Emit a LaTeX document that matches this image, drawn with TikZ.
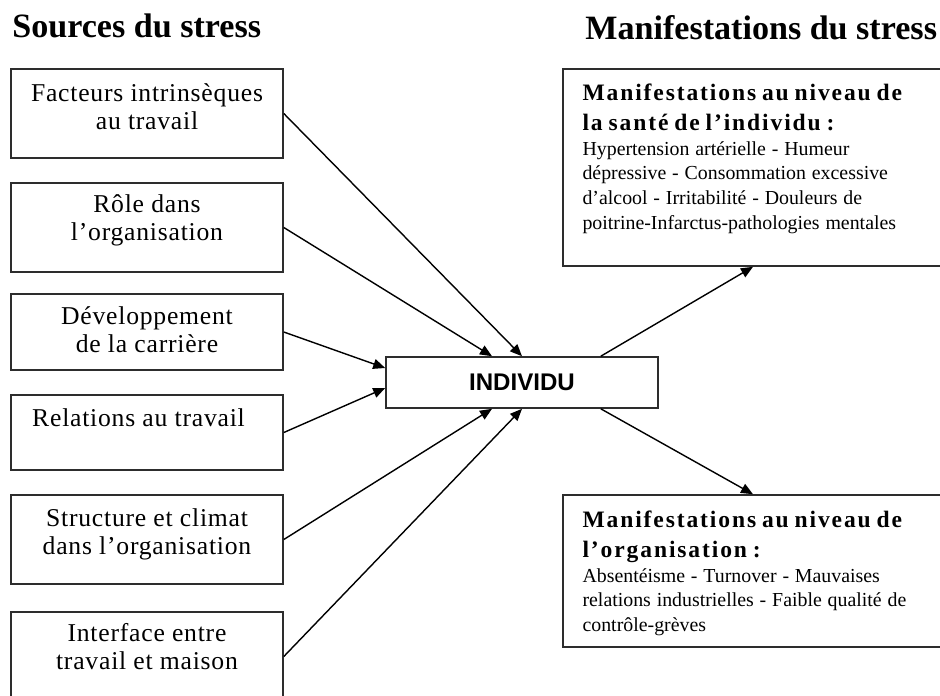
\documentclass[tikz,border=0pt]{standalone}
\usepackage{fontspec}
\setmainfont{Liberation Serif}
\newfontfamily\boxfont[LetterSpace=3]{Liberation Serif}
\newfontfamily\headfont[LetterSpace=8]{Liberation Serif}
\newfontfamily\indivfont{Liberation Sans}
\usepackage{tikz}
\usetikzlibrary{positioning, arrows.meta, calc}
\definecolor{BoxGray}{RGB}{45,45,45}

\begin{document}
\begin{tikzpicture}[
          srcbox/.style={rectangle, draw=BoxGray, line width=0.9pt,
                         minimum width=5.44cm, inner sep=0pt},
          srctext/.style={anchor=base, align=center, inner sep=0pt,
                          font=\boxfont\fontsize{14.6}{16.2}\selectfont},
          manbox/.style={rectangle, draw=BoxGray, line width=0.9pt,
                         minimum width=7.6cm, inner sep=0pt},
          mantext/.style={anchor=north west, align=left, inner sep=0pt,
                          text width=7cm},
          title/.style={anchor=base west, inner sep=0pt,
                        font=\bfseries\fontsize{19.4}{22}\selectfont},
          arr/.style={line width=0.8pt,
                      -{Triangle[length=0.24cm, width=0.2cm]}}
        ]
        \clip (0,0) rectangle (18.8,-13.9);

        % Titles
        \node[title] (srctitle) at (0.24,-0.74) {Sources du stress};
        \node[title] (mantitle) at (11.70,-0.78) {Manifestations du stress};

        % Sources (text baseline = last line)
        \node[srcbox, minimum height=1.78cm] (src1) at (2.94,-2.27) {};
        \node[srcbox, minimum height=1.78cm] (src2) at (2.94,-4.55) {};
        \node[srcbox, minimum height=1.52cm] (src3) at (2.94,-6.64) {};
        \node[srcbox, minimum height=1.50cm] (src4) at (2.94,-8.65) {};
        \node[srcbox, minimum height=1.78cm] (src5) at (2.94,-10.79) {};
        \node[srcbox, minimum height=1.78cm] (src6) at (2.94,-13.13) {};

        \node[srctext] (src1t) at ($(src1.north)+(0,-1.23)$)
              {Facteurs intrinsèques\\au travail};
        \node[srctext] (src2t) at ($(src2.north)+(0,-1.17)$)
              {Rôle dans\\l’organisation};
        \node[srctext] (src3t) at ($(src3.north)+(0,-1.19)$)
              {Développement\\de la carrière};
        \node[srctext] (src4t) at ($(src4.north)+(-0.17,-0.64)$)
              {Relations au travail};
        \node[srctext] (src5t) at ($(src5.north)+(0,-1.21)$)
              {Structure et climat\\dans l’organisation};
        \node[srctext] (src6t) at ($(src6.north)+(0,-1.17)$)
              {Interface entre\\travail et maison};

        % Individual
        \node[rectangle, draw=BoxGray, line width=0.9pt,
              minimum width=5.44cm, minimum height=1.02cm,
              font=\indivfont\bfseries\fontsize{13.7}{15}\selectfont]
              (indiv) at (10.44,-7.65) {INDIVIDU};

        % Manifestations
        \node[manbox, minimum height=3.94cm] (man1) at (15.06,-3.35) {};
        \node[manbox, minimum height=3.04cm] (man2) at (15.06,-11.42) {};

        \node[mantext] (man1t) at ($(man1.north west)+(0.4,-0.31)$)
              {\headfont\bfseries\fontsize{13.4}{17.1}\selectfont
               Manifestations au niveau de\\la santé de l’individu :\par
               \rmfamily\mdseries\fontsize{11.3}{14}\selectfont
               Hypertension artérielle - Humeur\\
               dépressive - Consommation excessive\\
               d’alcool - Irritabilité - Douleurs de\\
               poitrine-Infarctus-pathologies mentales\par};
        \node[mantext] (man2t) at ($(man2.north west)+(0.4,-0.33)$)
              {\headfont\bfseries\fontsize{13.4}{17.1}\selectfont
               Manifestations au niveau de\\l’organisation :\par
               \rmfamily\mdseries\fontsize{11.3}{14}\selectfont
               Absentéisme - Turnover - Mauvaises\\
               relations industrielles - Faible qualité de\\
               contrôle-grèves\par};

        % Arrows
        \draw[arr] (src1.east) -- (indiv.north);
        \draw[arr] (src2.east) -- ($(indiv.north)+(-0.6,0)$);
        \draw[arr] (src3.east) -- ($(indiv.west)+(0,0.29)$);
        \draw[arr] (src4.east) -- ($(indiv.west)+(0,-0.11)$);
        \draw[arr] (src5.east) -- ($(indiv.south)+(-0.6,0)$);
        \draw[arr] (src6.east) -- (indiv.south);
        \draw[arr] ($(indiv.north east)+(-1.16,0)$) -- (man1.south);
        \draw[arr] ($(indiv.south east)+(-1.16,0)$) -- (man2.north);
      \end{tikzpicture}
\end{document}
